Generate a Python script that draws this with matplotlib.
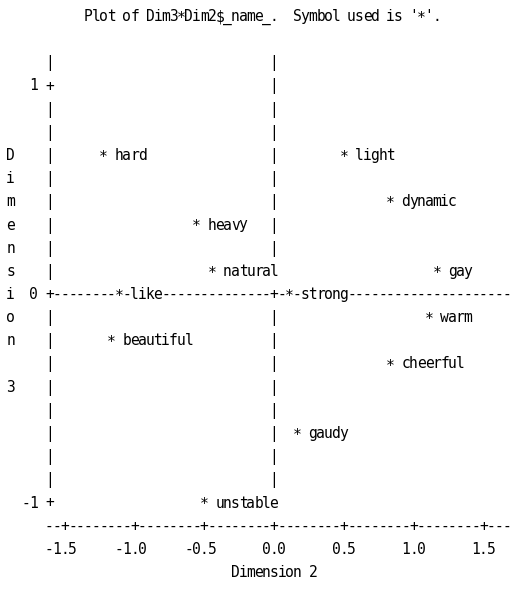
import matplotlib.pyplot as plt
from matplotlib import transforms

# Dimension 2 / Dimension 3 scores of each adjective
names = ["hard", "light", "dynamic", "heavy", "natural", "gay", "like",
         "strong", "warm", "beautiful", "cheerful", "gaudy", "unstable"]
dim2 = [-1.22, 0.50, 0.84, -0.56, -0.45, 1.17, -1.11,
        0.11, 1.12, -1.16, 0.83, 0.17, -0.51]
dim3 = [0.67, 0.66, 0.45, 0.33, 0.12, 0.11, 0.01,
        -0.02, -0.10, -0.22, -0.34, -0.67, -0.99]

x_ticks = [-1.5, -1.0, -0.5, 0.0, 0.5, 1.0, 1.5]
x_tick_labels = ["-1.5", "-1.0", "-0.5", "0.0", "0.5", "1.0", "1.5"]
y_ticks = [1, 0, -1]
y_tick_labels = ["1", "0", "-1"]

title = "Plot of Dim3*Dim2$_name_.  Symbol used is '*'."
xlabel = "Dimension 2"
ylabel = "Dimension 3"

# line printer grid: columns / lines per data unit
CPU, RPU = 18, 9


def col(v):
    return int(round(v * CPU))


def row(v):
    return int(round(v * RPU))


left, right = col(-1.61), col(1.67)
bottom, top = row(-1.11), row(1.11)

grid = {}
# reference lines at 0
for r in range(bottom + 1, top + 1):
    grid[(0, r)] = '|'
for c in range(left + 1, right + 1):
    grid[(c, 0)] = '-'
grid[(0, 0)] = '+'
# vertical axis
for r in range(bottom + 1, top + 1):
    grid[(left, r)] = '|'
for t in y_ticks:
    grid[(left, row(t))] = '+'
# horizontal axis
for c in range(left, right + 1):
    grid[(c, bottom)] = '-'
for t in x_ticks:
    grid[(col(t), bottom)] = '+'

# points with their labels
for n, x, y in zip(names, dim2, dim3):
    c, r = col(x), row(y)
    grid[(c, r)] = '*'
    for i, ch in enumerate(n):
        grid[(c + 2 + i, r)] = ch

# tick labels
for t, lab in zip(x_ticks, x_tick_labels):
    c0 = col(t) - len(lab) // 2
    for i, ch in enumerate(lab):
        grid[(c0 + i, bottom - 1)] = ch
for t, lab in zip(y_ticks, y_tick_labels):
    c0 = left - 1 - len(lab)
    for i, ch in enumerate(lab):
        grid[(c0 + i, row(t))] = ch

# axis labels and title
for i, ch in enumerate(xlabel):
    grid[(-(len(xlabel) // 2) + i, bottom - 2)] = ch
for i, ch in enumerate(ylabel):
    grid[(left - 5, len(ylabel) // 2 + 1 - i)] = ch
for i, ch in enumerate(title):
    grid[(-24 + i, top + 2)] = ch

fig = plt.figure(figsize=(5.15, 6.04), dpi=100)
ax = fig.add_axes([0, 0, 1, 1])
ax.set_xlim(-274 / 139.5, 241 / 139.5)
ax.set_ylim(-309 / 208.5, 295 / 208.5)
ax.axis('off')

base = transforms.offset_copy(ax.transData, fig, y=-4, units='dots')
star = transforms.offset_copy(ax.transData, fig, y=-6, units='dots')

for (c, r), ch in grid.items():
    if ch == ' ':
        continue
    ax.text(c / CPU, r / RPU, ch, ha='center', va='baseline',
            transform=star if ch == '*' else base,
            fontsize=10.5, family='DejaVu Sans Mono',
            color='black', parse_math=False)

fig.savefig('out.png', dpi=100)
